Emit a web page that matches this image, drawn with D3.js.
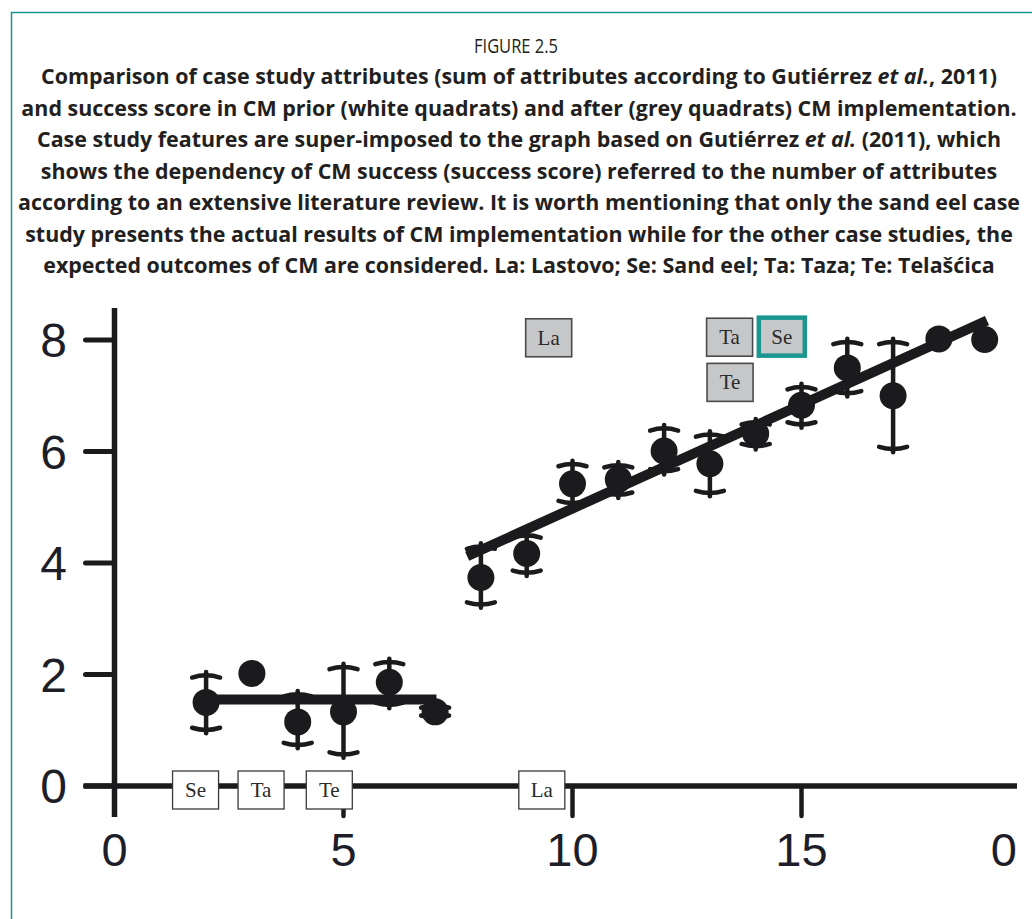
<!DOCTYPE html>
<html>
<head>
<meta charset="utf-8">
<script src="https://cdn.jsdelivr.net/npm/d3@7"></script>
<style>
  html, body { margin: 0; padding: 0; background: #ffffff; }
  svg { display: block; }
</style>
</head>
<body>
<svg id="fig" width="1032" height="919"></svg>
<script>
// Number of attributes (x) and CM success score (y) from the literature review
const attributes   = [2, 3, 4, 5, 6, 7, 8, 9, 10, 11, 12, 13, 14, 15, 16, 17, 18, 19];
const successScore = [1.5, 2.02, 1.15, 1.33, 1.86, 1.33, 3.74, 4.17, 5.42, 5.5, 6.01, 5.78, 6.32, 6.83, 7.5, 7.0, 8.02, 8.01];
const errLower     = [1.0, null, 0.73, 0.56, 1.45, 1.22, 3.25, 3.82, 5.07, 5.22, 5.64, 5.25, 6.09, 6.48, 7.04, 6.04, null, null];
const errUpper     = [1.99, null, 1.65, 2.14, 2.23, 1.45, 4.3, 4.5, 5.78, 5.76, 6.42, 6.31, 6.53, 7.16, 7.97, 7.97, null, null];

// Fitted lines: flat segment for few attributes, rising segment above
const flatFitX  = [2.0, 7.03];
const flatFitY  = [1.55, 1.55];
const slopeFitX = [7.7, 19.05];
const slopeFitY = [4.12, 8.35];

// Case studies before CM (white quadrats)
const priorCases = ["Se", "Ta", "Te", "La"];
const priorAttr  = [1.77, 3.2, 4.69, 9.33];
const priorScore = [0, 0, 0, 0];

// Case studies after CM (grey quadrats); Se shows actual results
const afterCases  = ["La", "Ta", "Se", "Te"];
const afterAttr   = [9.48, 13.43, 14.57, 13.44];
const afterScore  = [8.04, 8.05, 8.06, 7.24];
const actualCase  = "Se";

// Axis ticks
const yTicks    = [0, 2, 4, 6, 8];
const xTicks    = [0, 5, 10, 15, 20];
const xTickText = ["0", "5", "10", "15", "0"];

// Caption
const figureNumber = "FIGURE 2.5";
const captionLines = [
  [["Comparison of case study attributes (sum of attributes according to Gutiérrez ", false], ["et al.", true], [", 2011)", false]],
  [["and success score in CM prior (white quadrats) and after (grey quadrats) CM implementation.", false]],
  [["Case study features are super-imposed to the graph based on Gutiérrez ", false], ["et al.", true], [" (2011), which", false]],
  [["shows the dependency of CM success (success score) referred to the number of attributes", false]],
  [["according to an extensive literature review. It is worth mentioning that only the sand eel case", false]],
  [["study presents the actual results of CM implementation while for the other case studies, the", false]],
  [["expected outcomes of CM are considered. La: Lastovo; Se: Sand eel; Ta: Taza; Te: Telašćica", false]]
];

const ink = "#1b1b1d";
const teal = "#1a968f";
const svg = d3.select("#fig");

// Frame
svg.append("path")
  .attr("d", "M11.5,919 L11.5,12.5 L1032,12.5")
  .attr("fill", "none").attr("stroke", teal).attr("stroke-width", 1.5);

// Caption block
const cap = svg.append("g").attr("fill", "#231f20");
cap.append("text")
  .attr("x", 516).attr("y", 53)
  .attr("text-anchor", "middle")
  .attr("font-family", "'Open Sans', sans-serif")
  .attr("font-size", 19.5)
  .attr("textLength", 84)
  .attr("lengthAdjust", "spacingAndGlyphs")
  .text(figureNumber);

const capBase = 84, capStep = 31.5;
const capTexts = captionLines.map((parts, i) => {
  const t = cap.append("text")
    .attr("x", 519).attr("y", capBase + i * capStep)
    .attr("text-anchor", "middle")
    .attr("font-family", "'Open Sans', sans-serif")
    .attr("font-weight", 700)
    .attr("font-size", 19);
  parts.forEach(([s, it]) => {
    t.append("tspan").attr("font-style", it ? "italic" : "normal").text(s);
  });
  return t;
});
{
  const w = capTexts[1].node().getComputedTextLength();
  const fs = 19 * 996 / w;
  capTexts.forEach(t => t.attr("font-size", fs));
}

// Scales
const x = d3.scaleLinear().domain([0, 20]).range([114.5, 1030.5]);
const y = d3.scaleLinear().domain([0, 8]).range([786, 340]);
const tickLen = 31;
const cropRight = 1017;

const chart = svg.append("g");

// Axes
chart.append("line")
  .attr("x1", x(0)).attr("x2", x(0))
  .attr("y1", y(8) - 32).attr("y2", y(0) + tickLen)
  .attr("stroke", ink).attr("stroke-width", 5.5);
chart.append("line")
  .attr("x1", x(0) - tickLen).attr("x2", cropRight)
  .attr("y1", y(0)).attr("y2", y(0))
  .attr("stroke", ink).attr("stroke-width", 5.5);

chart.selectAll(".ytick").data(yTicks).join("line")
  .attr("class", "ytick")
  .attr("x1", x(0) - tickLen + 2).attr("x2", x(0))
  .attr("y1", d => y(d)).attr("y2", d => y(d))
  .attr("stroke", ink).attr("stroke-width", 5).attr("stroke-linecap", "round");

chart.selectAll(".xtick").data(xTicks.filter(d => d > 0 && x(d) < cropRight)).join("line")
  .attr("class", "xtick")
  .attr("x1", d => x(d)).attr("x2", d => x(d))
  .attr("y1", y(0)).attr("y2", y(0) + tickLen - 1)
  .attr("stroke", ink).attr("stroke-width", 4.5).attr("stroke-linecap", "round");

chart.selectAll(".ylab").data(yTicks).join("text")
  .attr("class", "ylab")
  .attr("x", 67).attr("y", d => y(d))
  .attr("dy", "0.36em")
  .attr("text-anchor", "end")
  .attr("font-family", "'Liberation Sans', Arial, sans-serif")
  .attr("font-size", 48)
  .attr("fill", "#1e1e28")
  .text(d => d);

const xl = chart.selectAll(".xlab").data(xTicks).join("text")
  .attr("class", "xlab")
  .attr("y", 866)
  .attr("text-anchor", "middle")
  .attr("font-family", "'Liberation Sans', Arial, sans-serif")
  .attr("font-size", 47)
  .attr("fill", "#1e1e28")
  .text((d, i) => xTickText[i]);
xl.attr("x", function (d) {
  const w = this.getComputedTextLength();
  return Math.min(x(d), cropRight - w / 2);
});

// Fitted lines
const fitLine = d3.line().x(d => x(d[0])).y(d => y(d[1]));
chart.append("path")
  .attr("d", fitLine(d3.zip(flatFitX, flatFitY)))
  .attr("stroke", ink).attr("stroke-width", 10).attr("fill", "none");
chart.append("path")
  .attr("d", fitLine(d3.zip(slopeFitX, slopeFitY)))
  .attr("stroke", ink).attr("stroke-width", 10).attr("fill", "none");

// Error bars with slightly drooping caps
const pts = attributes.map((a, i) => ({ a, s: successScore[i], lo: errLower[i], hi: errUpper[i] }));
const eb = chart.append("g").attr("stroke", ink).attr("fill", "none")
  .attr("stroke-width", 4.5).attr("stroke-linecap", "round");
pts.filter(p => p.lo !== null).forEach(p => {
  const cx = x(p.a), yt = y(p.hi), yb = y(p.lo);
  eb.append("line").attr("x1", cx).attr("x2", cx).attr("y1", yt - 3).attr("y2", yb + 3);
  eb.append("path").attr("d", `M${cx - 14},${yt + 2.5} Q${cx},${yt - 2} ${cx + 14},${yt + 2.5}`);
  eb.append("path").attr("d", `M${cx - 14},${yb - 2.5} Q${cx},${yb + 2} ${cx + 14},${yb - 2.5}`);
});

// Mean points
chart.selectAll(".pt").data(pts).join("circle")
  .attr("class", "pt")
  .attr("cx", d => x(d.a)).attr("cy", d => y(d.s))
  .attr("r", 13.5)
  .attr("fill", ink);

// Case study quadrats
const boxW = 46, boxH = 38;
function quadrat(g, label, cx, cy, fill, stroke, sw) {
  g.append("rect")
    .attr("x", cx - boxW / 2).attr("y", cy - boxH / 2)
    .attr("width", boxW).attr("height", boxH)
    .attr("fill", fill).attr("stroke", stroke).attr("stroke-width", sw);
  g.append("text")
    .attr("x", cx).attr("y", cy).attr("dy", "0.33em")
    .attr("text-anchor", "middle")
    .attr("font-family", "'Liberation Serif', 'Times New Roman', serif")
    .attr("font-size", 21)
    .attr("fill", "#2a2a2a")
    .text(label);
}
const boxes = svg.append("g");
priorCases.forEach((c, i) => {
  quadrat(boxes, c, x(priorAttr[i]), y(priorScore[i]) + 4, "#ffffff", "#3a3a3a", 1.3);
});
afterCases.forEach((c, i) => {
  const hl = c === actualCase;
  quadrat(boxes, c, x(afterAttr[i]), y(afterScore[i]),
    "#c6c7c9", hl ? teal : "#4a4a4a", hl ? 4.5 : 1.6);
});
</script>
</body>
</html>
